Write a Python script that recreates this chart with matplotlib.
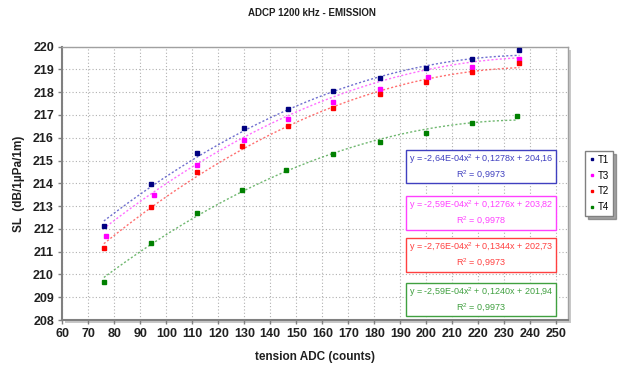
# -*- coding: utf-8 -*-
"""ADCP 1200 kHz source level vs ADC tension, with quadratic trendlines."""
import numpy as np
import matplotlib
matplotlib.use('Agg')
import matplotlib.pyplot as plt
from matplotlib.patches import Rectangle

plt.rcParams['font.family'] = ['Liberation Sans', 'DejaVu Sans']

t1_x = [76, 94, 112, 130, 147, 164, 182, 200, 217.7, 235.8]
t1_y = [212.13, 213.95, 215.34, 216.41, 217.26, 218.04, 218.61, 219.05, 219.46, 219.84]
t3_x = [77, 95.4, 112, 130, 147, 164, 182, 200.8, 217.7, 235.8]
t3_y = [211.68, 213.50, 214.80, 215.91, 216.81, 217.57, 218.14, 218.68, 219.09, 219.46]
t2_x = [76, 94, 112, 129, 147, 164, 182, 200, 217.7, 235.8]
t2_y = [211.14, 212.94, 214.51, 215.62, 216.53, 217.29, 217.91, 218.43, 218.89, 219.26]
t4_x = [76, 94, 112, 129, 146, 164, 182, 200, 217.7, 235]
t4_y = [209.66, 211.37, 212.69, 213.71, 214.57, 215.30, 215.82, 216.22, 216.63, 216.95]

# trendline coefficients (a, b, c) and R2 as printed on the chart
t1_fit = [-2.64e-4, 0.1278, 204.16]
t3_fit = [-2.59e-4, 0.1276, 203.82]
t2_fit = [-2.76e-4, 0.1344, 202.73]
t4_fit = [-2.59e-4, 0.1240, 201.94]
t1_r2, t3_r2, t2_r2, t4_r2 = 0.9973, 0.9978, 0.9973, 0.9973

labels = ['T1', 'T3', 'T2', 'T4']


def eq_text(fit, r2):
    a, b, c = fit
    m, e = ('%.2E' % a).split('E')
    s = 'y = %sE%s$\\mathregular{x^2}$ + %.4fx + %.2f' % (m, e, b, c)
    s = s.replace('.', ',')
    return s + '\n' + ('R$\\mathregular{^2}$ = %.4f' % r2).replace('.', ',')


fig = plt.figure(figsize=(6.24, 3.67), dpi=100)
pos = [0.0998, 0.128, 0.8105, 0.745]
ax = fig.add_axes(pos)
ax.set_zorder(2)

# drop shadow of the plot area
fig.patches.append(Rectangle((pos[0] + 0.005, pos[1] - 0.008), pos[2], pos[3],
                             transform=fig.transFigure, facecolor='#c8c8c8',
                             edgecolor='none', zorder=0))
ax.set_facecolor('white')

series = [
    (t1_x, t1_y, t1_fit, t1_r2, '#000080', '#4040c0'),
    (t3_x, t3_y, t3_fit, t3_r2, '#ff00ff', '#ff40ff'),
    (t2_x, t2_y, t2_fit, t2_r2, '#ff0000', '#ff4040'),
    (t4_x, t4_y, t4_fit, t4_r2, '#008000', '#40a040'),
]
box_y = [(0.501, 0.622), (0.329, 0.454), (0.176, 0.300), (0.015, 0.135)]

for (x, y, fit, r2, mcol, lcol), lab, (y0, y1) in zip(series, labels, box_y):
    x = np.asarray(x)
    xs = np.linspace(x.min(), x.max(), 100)
    ax.plot(xs, np.polyval(fit, xs), color=lcol, lw=1.0,
            linestyle=(0, (1.5, 1.5)), alpha=0.75, zorder=2)
    ax.plot(x, y, linestyle='none', marker='s', ms=2.2, color=mcol,
            label=lab, zorder=3)
    ax.add_patch(Rectangle((0.680, y0), 0.296, y1 - y0, transform=ax.transAxes,
                           facecolor='white', edgecolor=lcol, lw=1.0, zorder=4))
    ax.text(0.828, (y0 + y1) / 2, eq_text(fit, r2), transform=ax.transAxes,
            ha='center', va='center', fontsize=6.5, color=lcol,
            linespacing=1.3, zorder=5)

ax.set_xlim(60, 254.5)
ax.set_ylim(208, 220)
ax.set_xticks(np.arange(60, 251, 10))
ax.set_yticks(np.arange(208, 221, 1))
ax.grid(True, color='#b0b0b0', linestyle=(0, (1, 2)), lw=0.8)
ax.set_axisbelow(True)

for side in ['left', 'bottom']:
    ax.spines[side].set_color('#808080')
    ax.spines[side].set_linewidth(1.5)
for side in ['top', 'right']:
    ax.spines[side].set_color('#a0a0a0')
    ax.spines[side].set_linewidth(1.0)
ax.tick_params(direction='out', length=3, width=1, color='#808080',
               labelsize=9, pad=3)
for t in ax.get_xticklabels() + ax.get_yticklabels():
    t.set_fontweight('bold')
    t.set_color('#202020')

ax.set_xlabel('tension ADC (counts)', fontsize=8.5, fontweight='bold',
              color='#202020', labelpad=8)
ax.set_ylabel('SL  (dB/1µPa/1m)', fontsize=8.5, fontweight='bold',
              color='#202020', labelpad=6)
fig.text(0.5, 0.965, 'ADCP 1200 kHz - EMISSION', ha='center', va='center',
         fontsize=7, fontweight='bold', color='#202020')

leg = fig.legend(loc='center', bbox_to_anchor=(0.9605, 0.5), fontsize=7,
                 handlelength=0.5, handletextpad=0.4, borderpad=0.4,
                 labelspacing=0.6, markerscale=0.8, fancybox=False,
                 shadow=True, framealpha=1)
leg.get_frame().set_edgecolor('#808080')
leg.get_frame().set_linewidth(1.0)

fig.savefig('out.png', dpi=100)
